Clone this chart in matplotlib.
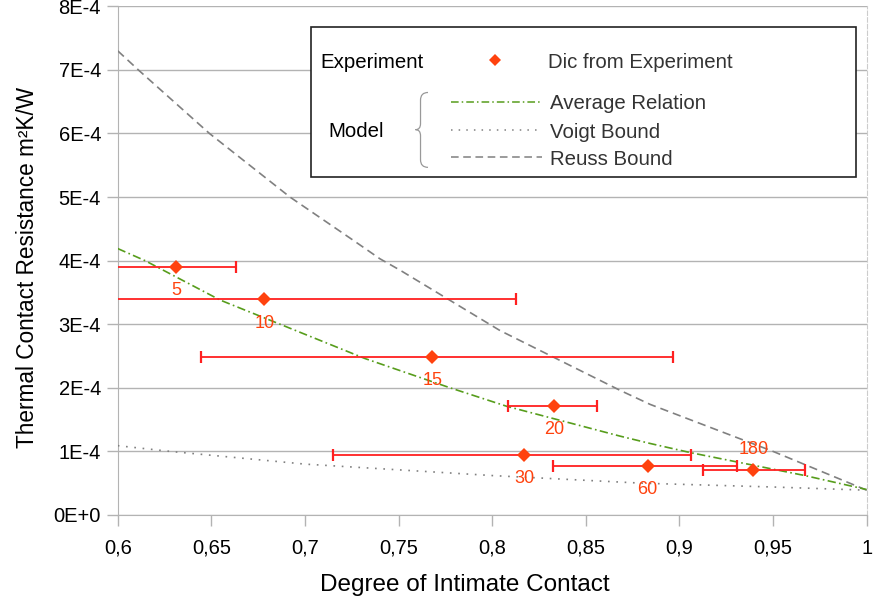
import matplotlib
matplotlib.use("Agg")
import matplotlib.pyplot as plt
from matplotlib.path import Path
from matplotlib.patches import PathPatch, Rectangle
from matplotlib.lines import Line2D
from matplotlib.ticker import FuncFormatter

plt.rcParams['font.family'] = ['Liberation Sans', 'DejaVu Sans']

# ---- data ----
labels = ['5', '10', '15', '20', '30', '60', '180']
degree = [0.6311, 0.6783, 0.7680, 0.8330, 0.8171, 0.8830, 0.9394]
resistance = [3.90e-4, 3.39e-4, 2.49e-4, 1.71e-4, 0.94e-4, 0.77e-4, 0.71e-4]
xerr_minus = [0.0319, 0.1344, 0.1237, 0.0247, 0.1023, 0.0505, 0.0270]
xerr_plus = [0.0319, 0.1344, 0.1286, 0.0228, 0.0889, 0.0476, 0.0277]

avg_x = [0.600, 0.6146, 0.6547, 0.6867, 0.7321, 0.7775, 0.8077, 0.8683, 0.8843, 0.906, 0.967, 1.000]
avg_y = [4.19e-4, 4.00e-4, 3.38e-4, 3.00e-4, 2.46e-4, 2.00e-4, 1.71e-4, 1.24e-4, 1.125e-4, 0.98e-4, 0.62e-4, 0.40e-4]

voigt_x = [0.600, 0.628, 0.700, 0.800, 0.880, 0.950, 1.000]
voigt_y = [1.09e-4, 1.00e-4, 0.80e-4, 0.62e-4, 0.50e-4, 0.44e-4, 0.39e-4]

reuss_x = [0.600, 0.611, 0.649, 0.692, 0.7258, 0.740, 0.7508, 0.8042, 0.8683, 0.8843, 0.950, 1.000]
reuss_y = [7.30e-4, 7.00e-4, 6.00e-4, 5.00e-4, 4.32e-4, 4.03e-4, 3.85e-4, 2.90e-4, 1.96e-4, 1.74e-4, 1.00e-4, 0.39e-4]

x_ticks = [0.6, 0.65, 0.7, 0.75, 0.8, 0.85, 0.9, 0.95, 1.0]
y_ticks = [0, 1e-4, 2e-4, 3e-4, 4e-4, 5e-4, 6e-4, 7e-4, 8e-4]

ORANGE = '#ff420e'
GREEN = '#579d1c'
GRID = '#b3b3b3'

fig = plt.figure(figsize=(8.74, 6.07), dpi=100)
ax = fig.add_axes([0.1347, 0.1516, 0.8569, 0.8380])
ax.set_xlim(0.6, 1.0)
ax.set_ylim(0, 8e-4)

ax.set_xticks(x_ticks)
ax.set_yticks(y_ticks)
ax.xaxis.set_major_formatter(FuncFormatter(lambda v, p: ('%g' % round(v, 2)).replace('.', ',')))
def yfmt(v, p):
    n = int(round(v / 1e-4))
    return '0E+0' if n == 0 else '%dE-4' % n
ax.yaxis.set_major_formatter(FuncFormatter(yfmt))
ax.tick_params(axis='both', direction='out', length=8, width=1, color=GRID,
               labelsize=14.5, labelcolor='black')
ax.tick_params(axis='x', pad=9)
ax.tick_params(axis='y', pad=4)

ax.grid(axis='y', color=GRID, lw=1)
ax.set_axisbelow(True)
ax.spines['top'].set_visible(False)
ax.spines['right'].set_color('#cccccc')
ax.spines['right'].set_linestyle((0, (4, 2)))
ax.spines['left'].set_color(GRID)
ax.spines['bottom'].set_color(GRID)

# model curves
ax.plot(reuss_x, reuss_y, color='#808080', lw=1.2, ls=(0, (5, 3)), zorder=3)
ax.plot(avg_x, avg_y, color=GREEN, lw=1.2, ls=(0, (5, 2, 1, 2)), zorder=3)
ax.plot(voigt_x, voigt_y, color='#808080', lw=1.2, ls=(0, (1, 4)), zorder=3)

# experimental points with error bars
ax.errorbar(degree, resistance, xerr=[xerr_minus, xerr_plus], fmt='none',
            ecolor='#ff2020', elinewidth=1.3, capsize=4.5, capthick=1.6, zorder=4)
ax.plot(degree, resistance, ls='none', marker='D', ms=7.5, color=ORANGE,
        markeredgewidth=0, zorder=5)
for lab, x, y in zip(labels, degree, resistance):
    dy = 15 if lab == '180' else -17
    ax.annotate(lab, (x, y), xytext=(0, dy), textcoords='offset points',
                ha='center', va='center', color=ORANGE, fontsize=13, zorder=6)

ax.set_xlabel('Degree of Intimate Contact', fontsize=17.5)
ax.xaxis.set_label_coords((465 - 117.7) / 749, -(585 - 515) / 508.6)
ax.xaxis.label.set_va('center')
ax.set_ylabel('Thermal Contact Resistance m²K/W', fontsize=16.3)
ax.yaxis.set_label_coords(-(117.7 - 27) / 749, (515 - 267) / 508.6)
ax.yaxis.label.set_va('center')

# legend box (manual, axes fraction coordinates)
T = ax.transAxes
ax.add_patch(Rectangle((0.2577, 0.6639), 0.728, 0.2957, transform=T, facecolor='white',
                       edgecolor='#222222', lw=1.2, zorder=7))
FS = 14.7
ax.text(0.271, 0.890, 'Experiment', transform=T, fontsize=FS, va='center', ha='left', zorder=8)
ax.add_line(Line2D([0.5037], [0.894], transform=T, marker='D', ms=6, color=ORANGE, ls='none',
                   markeredgewidth=0, zorder=8))
ax.text(0.5749, 0.890, 'Dic from Experiment', transform=T, fontsize=FS, color='#333333',
        va='center', ha='left', zorder=8)
ax.text(0.2812, 0.754, 'Model', transform=T, fontsize=FS, va='center', ha='left', zorder=8)

leg_items = [(0.8124, GREEN, (0, (5, 2, 1, 2)), 'Average Relation'),
             (0.7569, '#808080', (0, (1, 4)), 'Voigt Bound'),
             (0.7031, '#808080', (0, (5, 3)), 'Reuss Bound')]
for fy, c, ls, txt in leg_items:
    ax.add_line(Line2D([0.4446, 0.5661], [fy, fy], transform=T, color=c, ls=ls, lw=1.1, zorder=8))
    ax.text(0.5772, fy - 0.004, txt, transform=T, fontsize=FS, color='#333333', va='center',
            ha='left', zorder=8)

# curly brace
bx0, bx1, bxm = 0.4143, 0.4043, 0.3976
ytop, ybot, ymid = 0.8306, 0.6834, 0.7575
verts = [(bx0, ytop), (bx1, ytop), (bx1, ytop - 0.015),
         (bx1, ymid + 0.012), (bx1, ymid), (bxm, ymid),
         (bx1, ymid), (bx1, ymid - 0.012),
         (bx1, ybot + 0.015), (bx1, ybot), (bx0, ybot)]
codes = [Path.MOVETO, Path.CURVE3, Path.CURVE3,
         Path.LINETO, Path.CURVE3, Path.CURVE3,
         Path.CURVE3, Path.CURVE3,
         Path.LINETO, Path.CURVE3, Path.CURVE3]
ax.add_patch(PathPatch(Path(verts, codes), transform=T, facecolor='none',
                       edgecolor='#999999', lw=0.9, zorder=8))

fig.savefig('out.png', dpi=100)
